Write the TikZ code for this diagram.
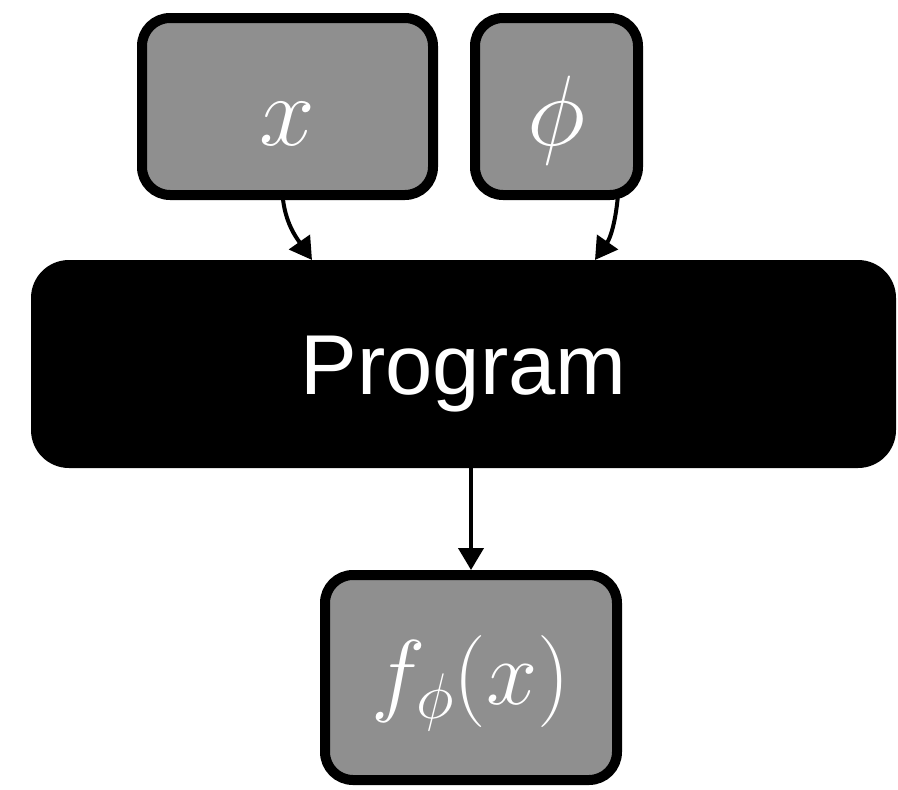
\RequirePackage{fix-cm}
\documentclass[tikz,border=0pt]{standalone}
\usepackage{fontspec}
\setsansfont{Liberation Sans}
\usetikzlibrary{arrows.meta}
\definecolor{boxgray}{RGB}{143,143,143}
\begin{document}
\begin{tikzpicture}[x=1pt,y=-1pt,
  gbox/.style={draw=black, line width=10pt, fill=boxgray, rounded corners=28pt,
    inner sep=0pt, outer sep=0pt, text=white, font=\fontsize{100}{100}\selectfont},
  pbox/.style={fill=black, rounded corners=38pt, inner sep=0pt, outer sep=0pt,
    text=white, font=\sffamily\fontsize{85}{85}\selectfont},
  conn/.style={line width=4pt, -{Triangle[length=22pt,width=25pt]}}]
\useasboundingbox (0,0) rectangle (898,790);
\node[gbox, minimum width=291pt, minimum height=177pt, text height=77pt, text depth=0pt]
  (xin) at (287.5,106.5) {$x$};
\node[gbox, minimum width=163pt, minimum height=177pt, text height=77pt, text depth=0pt]
  (phin) at (556.5,106.5) {$\phi$};
\node[pbox, minimum width=865pt, minimum height=208pt, text height=60pt, text depth=0pt]
  (prog) at (463.5,364) {Program};
\node[gbox, minimum width=292pt, minimum height=205pt, text height=54pt, text depth=0pt,
  font=\fontsize{92}{92}\selectfont]
  (out) at (471,677.5) {$f_\phi(x)$};
\draw[conn] ([xshift=-5pt]xin.south) to[out=-85,in=125] ([xshift=-151.5pt]prog.north);
\draw[conn] ([xshift=61.5pt]phin.south) to[out=-95,in=55] ([xshift=131.5pt]prog.north);
\draw[conn, shorten >=5pt] (prog.south -| out.north) -- (out.north);
\end{tikzpicture}
\end{document}
